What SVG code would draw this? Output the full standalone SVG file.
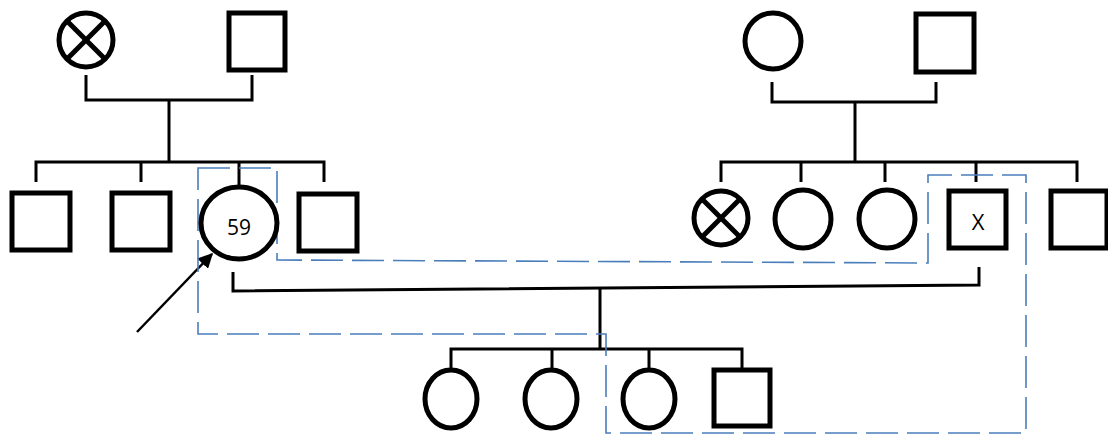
<svg xmlns="http://www.w3.org/2000/svg" width="1108" height="436" viewBox="0 0 1108 436">
<defs>
<style>
.n{fill:#fff;stroke:#000;stroke-width:5}
.x{stroke:#000;stroke-width:5}
.c{fill:none;stroke:#000;stroke-width:3}
.d{fill:none;stroke:#4a7ebb;stroke-width:1.6;stroke-dasharray:32 9}
.t{font-family:"Open Sans","Liberation Sans",sans-serif;fill:#000;text-anchor:middle}
</style>
<marker id="ah" viewBox="0 0 10 10" refX="9" refY="5" markerWidth="6" markerHeight="6" orient="auto" markerUnits="strokeWidth">
<path d="M0,0 L10,5 L0,10 z" fill="#000"/>
</marker>
</defs>
<rect width="1108" height="436" fill="#fff"/>
<g id="connectors">
<polyline class="c" points="86,75 86,100 252,100 252,75"/>
<line class="c" x1="169" y1="100" x2="169" y2="162"/>
<polyline class="c" points="36,182 36,162 324,162 324,182"/>
<line class="c" x1="141" y1="162" x2="141" y2="182"/>
<line class="c" x1="239" y1="162" x2="239" y2="185"/>
<polyline class="c" points="772,82 772,102 936,102 936,82"/>
<line class="c" x1="855" y1="102" x2="855" y2="162"/>
<polyline class="c" points="721,182 721,162 1077,162 1077,182"/>
<line class="c" x1="801" y1="162" x2="801" y2="182"/>
<line class="c" x1="885" y1="162" x2="885" y2="182"/>
<line class="c" x1="976" y1="162" x2="976" y2="182"/>
<polyline class="c" points="233,272 233,291 979,285 979,267" stroke-width="3.5"/>
<line class="c" x1="600" y1="288" x2="600" y2="349"/>
<polyline class="c" points="451,368 451,349 742,349 742,368"/>
<line class="c" x1="552" y1="349" x2="552" y2="368"/>
<line class="c" x1="649" y1="349" x2="649" y2="368"/>
<line x1="137" y1="332" x2="212" y2="254" stroke="#000" stroke-width="2.5" marker-end="url(#ah)"/>
<polygon class="d" points="198,168 277,168 277,260 928,263 928,175 1026,175 1026,433 606,433 606,334 198,334"/>
</g>
<g id="gp1"><circle class="n" cx="86" cy="40" r="27"/><line class="x" x1="67" y1="21" x2="105" y2="59"/><line class="x" x1="105" y1="21" x2="67" y2="59"/></g>
<g id="gp2"><rect class="n" x="229" y="13" width="56" height="57"/></g>
<g id="gp3"><circle class="n" cx="773" cy="41" r="28"/></g>
<g id="gp4"><rect class="n" x="916" y="14" width="58" height="58"/></g>
<g id="s1"><rect class="n" x="12" y="193" width="58" height="57"/></g>
<g id="s2"><rect class="n" x="112" y="193" width="58" height="57"/></g>
<g id="proband"><ellipse class="n" cx="239" cy="223" rx="38" ry="36"/><text class="t" x="239" y="235" font-size="21">59</text></g>
<g id="s4"><rect class="n" x="299" y="194" width="58" height="57"/></g>
<g id="a1"><circle class="n" cx="721" cy="218" r="27"/><line class="x" x1="702" y1="199" x2="740" y2="237"/><line class="x" x1="740" y1="199" x2="702" y2="237"/></g>
<g id="a2"><ellipse class="n" cx="803" cy="219" rx="28" ry="29"/></g>
<g id="a3"><ellipse class="n" cx="887" cy="219" rx="28" ry="29"/></g>
<g id="husband"><rect class="n" x="949" y="191" width="57" height="57"/><text class="t" x="978" y="230" font-size="22">X</text></g>
<g id="a5"><rect class="n" x="1051" y="191" width="56" height="57"/></g>
<g id="c1"><ellipse class="n" cx="451" cy="399" rx="26" ry="29"/></g>
<g id="c2"><ellipse class="n" cx="551" cy="399" rx="26" ry="29"/></g>
<g id="c3"><ellipse class="n" cx="649" cy="399" rx="26" ry="29"/></g>
<g id="c4"><rect class="n" x="714" y="370" width="56" height="56"/></g>
</svg>
